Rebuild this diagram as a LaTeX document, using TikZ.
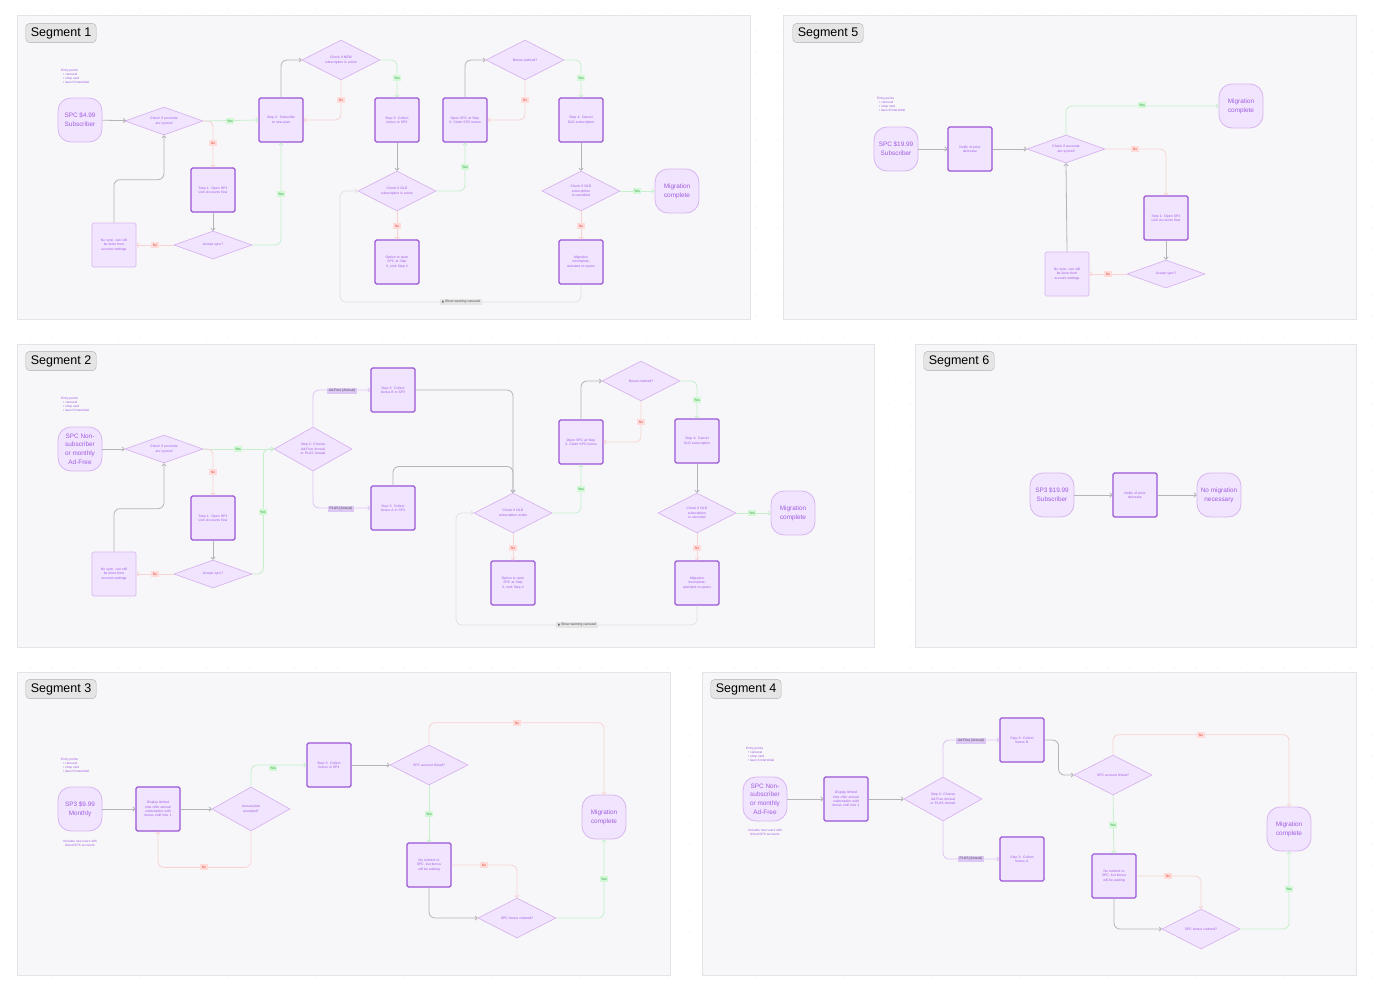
\documentclass[tikz,border=0pt]{standalone}
\usepackage{fontspec}
\setmainfont{Liberation Sans}
\newfontfamily\symfont{DejaVu Sans}
\usetikzlibrary{arrows.meta,shapes.geometric,calc}
\definecolor{panelfill}{HTML}{F7F7F9}
\definecolor{paneldraw}{HTML}{E4E4E8}
\definecolor{boxfill}{HTML}{F1E4FF}
\definecolor{boxdraw}{HTML}{9A55D6}
\definecolor{softdraw}{HTML}{D8B4F0}
\definecolor{violettext}{HTML}{A05CE0}
\definecolor{greyline}{HTML}{B4B4B8}
\definecolor{greenline}{HTML}{C6EFCB}
\definecolor{redline}{HTML}{F8D3D3}
\definecolor{linkline}{HTML}{DCC4F4}
\definecolor{yesfill}{HTML}{D2F8D6}
\definecolor{yestext}{HTML}{2E9A45}
\definecolor{nofill}{HTML}{FFDCD9}
\definecolor{notext}{HTML}{E0483D}
\definecolor{tagfill}{HTML}{DCC7F5}
\newcommand{\tinyfont}{\fontsize{3.4}{4.3}\selectfont\hyphenpenalty=10000\exhyphenpenalty=10000}
\newcommand{\termfont}{\fontsize{6.4}{8.8}\selectfont}
\tikzset{
  panel/.style={fill=panelfill, draw=paneldraw, line width=0.6pt},
  seglabel/.style={fill=black!10, draw=black!30, rounded corners=4pt, font=\fontsize{12.5}{14}\selectfont, inner xsep=5pt, inner ysep=4pt},
  term/.style={rectangle, rounded corners=13pt, fill=boxfill, draw=softdraw, line width=0.8pt, minimum width=44pt, minimum height=44pt, text=violettext, font=\termfont, align=center, inner sep=1pt},
  box/.style={rectangle, rounded corners=1.5pt, fill=boxfill, draw=boxdraw, line width=1.1pt, minimum width=44pt, minimum height=44pt, text width=32pt, text=violettext, font=\tinyfont, align=center, inner sep=1pt},
  softbox/.style={box, draw=softdraw, line width=0.7pt},
  dec/.style={diamond, aspect=2, fill=boxfill, draw=softdraw, line width=0.7pt, minimum width=78pt, minimum height=40pt, text width=33pt, text=violettext, font=\tinyfont, align=center, inner sep=0pt},
  flat/.style={dec, aspect=2.8, minimum height=28pt},
  entry/.style={text=violettext, font=\fontsize{3.2}{4.4}\selectfont, align=left, anchor=north west, inner sep=0pt},
  yes/.style={fill=yesfill, text=yestext, font=\tinyfont, inner sep=1.5pt},
  no/.style={fill=nofill, text=notext, font=\tinyfont, inner sep=1.5pt},
  tag/.style={fill=tagfill, text=black!70, font=\tinyfont, inner sep=1.5pt},
  warn/.style={fill=black!10, text=black!70, font=\tinyfont, inner sep=1.5pt},
  flow/.style={draw=greyline, line width=0.8pt, rounded corners=6pt, -{To[length=3pt,width=5pt]}},
  okflow/.style={flow, draw=greenline},
  noflow/.style={flow, draw=redline},
  linkflow/.style={flow, draw=linkline},
  backflow/.style={draw=black!12, line width=0.7pt, rounded corners=6pt, -{To[length=3pt,width=5pt]}}
}
\newcommand{\entrytext}{Entry points\\[-0.3pt]\hspace{2pt}\textbullet\ carousel\\[-0.3pt]\hspace{2pt}\textbullet\ shop card\\[-0.3pt]\hspace{2pt}\textbullet\ launch interstitial}
\begin{document}
\begin{tikzpicture}[x=1pt,y=-1pt]
	\useasboundingbox[fill=white] (0,0) rectangle (1376,997);
	\foreach \gx in {8,30,...,1376} {
		\foreach \gy in {8,30,...,997} {
			\fill[black!15] (\gx,\gy) circle (0.5pt);
		}
	}
	
	% panels
	\draw[panel] (17,15) rectangle (750,319);
	\draw[panel] (783,15) rectangle (1356,319);
	\draw[panel] (17,344) rectangle (874,647);
	\draw[panel] (915,344) rectangle (1356,647);
	\draw[panel] (17,672) rectangle (670,975);
	\draw[panel] (702,672) rectangle (1356,975);
	\node[seglabel] (seg1) at (61,33) {Segment 1};
	\node[seglabel] (seg5) at (828,33) {Segment 5};
	\node[seglabel] (seg2) at (61,361) {Segment 2};
	\node[seglabel] (seg6) at (959,361) {Segment 6};
	\node[seglabel] (seg3) at (61,689) {Segment 3};
	\node[seglabel] (seg4) at (746,689) {Segment 4};
	
	% Segment 1
	\node[entry] (s1entry) at (61,69) {\entrytext};
	\node[term] (s1start) at (80,120) {SPC \$4.99\\Subscriber};
	\node[flat] (s1sync) at (164,121) {Check if accounts are synced};
	\node[box] (s1step1) at (213,190) {Step 1: Open SP3 Link Accounts flow};
	\node[flat] (s1accept) at (213,245) {Accept sync?};
	\node[softbox] (s1nosync) at (114,245) {No sync, can still be done from account settings};
	\node[box] (s1step2) at (281,120) {Step 2: Subscribe to new plan};
	\node[dec] (s1new) at (341,60) {Check if NEW subscription is active};
	\node[box] (s1step3) at (397,120) {Step 3: Collect bonus in SP3};
	\node[dec] (s1old) at (397,191) {Check if OLD subscription is active};
	\node[box] (s1option) at (397,262) {Option to open SPC at Step 3, omit Step 4};
	\node[box] (s1open) at (465,120) {Open SPC at Step 3: Claim SPC bonus};
	\node[dec] (s1bonus) at (525,60) {Bonus claimed?};
	\node[box] (s1step4) at (581,120) {Step 4: Cancel OLD subscription};
	\node[dec] (s1cancel) at (581,191) {Check if OLD subscription is cancelled};
	\node[term] (s1done) at (677,191) {Migration\\complete};
	\node[box] (s1incomplete) at (581,262) {Migration incomplete, assistant re-opens};
	\coordinate (s1loop) at (340,302);
	
	\draw[flow] (s1start) -- (s1sync);
	\draw[okflow] (s1sync.east) -- (s1step2.west);
	\draw[noflow] (s1sync.east) -| (s1step1.north);
	\draw[flow] (s1step1) -- (s1accept);
	\draw[noflow] (s1accept) -- (s1nosync);
	\draw[flow] (s1nosync.north) -- ++(0,-43) -| (s1sync.south);
	\draw[okflow] (s1accept.east) -| (s1step2.south);
	\draw[flow] (s1step2.north) |- (s1new.west);
	\draw[noflow] (s1new.south) |- (s1step2.east);
	\draw[okflow] (s1new.east) -| (s1step3.north);
	\draw[flow] (s1step3) -- (s1old);
	\draw[okflow] (s1old.east) -| (s1open.south);
	\draw[noflow] (s1old) -- (s1option);
	\draw[flow] (s1open.north) |- (s1bonus.west);
	\draw[noflow] (s1bonus.south) |- (s1open.east);
	\draw[okflow] (s1bonus.east) -| (s1step4.north);
	\draw[flow] (s1step4) -- (s1cancel);
	\draw[okflow] (s1cancel) -- (s1done);
	\draw[noflow] (s1cancel) -- (s1incomplete);
	\draw[backflow] (s1incomplete.south) |- (s1loop) |- (s1old.west);
	\node[yes] (s1y1) at (230,121) {Yes};
	\node[no] (s1n1) at (213,143) {No};
	\node[no] (s1n2) at (155,245) {No};
	\node[yes] (s1y2) at (281,194) {Yes};
	\node[no] (s1n3) at (341,100) {No};
	\node[yes] (s1y3) at (397,78) {Yes};
	\node[yes] (s1y4) at (465,167) {Yes};
	\node[no] (s1n4) at (397,226) {No};
	\node[no] (s1n5) at (525,100) {No};
	\node[yes] (s1y5) at (581,78) {Yes};
	\node[yes] (s1y6) at (637,191) {Yes};
	\node[no] (s1n6) at (581,226) {No};
	\node[warn] (s1warn) at (461,302) {{\symfont\fontsize{3}{4}\selectfont ▲} Show warning carousel};
	
	% Segment 5
	\node[entry] (s5entry) at (877,97) {\entrytext};
	\node[term] (s5start) at (896,149) {SPC \$19.99\\Subscriber};
	\node[box] (s5notify) at (970,149) {Notify of price decrease};
	\node[flat] (s5sync) at (1066,149) {Check if accounts are synced};
	\node[term] (s5done) at (1241,106) {Migration\\complete};
	\node[box] (s5step1) at (1166,218) {Step 1: Open SP3 Link Accounts flow};
	\node[flat] (s5accept) at (1166,274) {Accept sync?};
	\node[softbox] (s5nosync) at (1067,274) {No sync, can still be done from account settings};
	
	\draw[flow] (s5start) -- (s5notify);
	\draw[flow] (s5notify) -- (s5sync);
	\draw[okflow] (s5sync.north) |- (s5done.west);
	\draw[noflow] (s5sync.east) -| (s5step1.north);
	\draw[flow] (s5step1) -- (s5accept);
	\draw[noflow] (s5accept) -- (s5nosync);
	\draw[flow] (s5nosync.north) -- (s5sync.south);
	\node[yes] (s5y1) at (1142,105) {Yes};
	\node[no] (s5n1) at (1135,149) {No};
	\node[no] (s5n2) at (1108,274) {No};
	
	% Segment 2
	\node[entry] (s2entry) at (61,397) {\entrytext};
	\node[term] (s2start) at (80,449) {SPC Non-\\subscriber\\or monthly\\Ad-Free};
	\node[flat] (s2sync) at (164,449) {Check if accounts are synced};
	\node[box] (s2step1) at (213,518) {Step 1: Open SP3 Link Accounts flow};
	\node[flat] (s2accept) at (213,574) {Accept sync?};
	\node[softbox] (s2nosync) at (114,574) {No sync, can still be done from account settings};
	\node[dec, minimum height=44pt] (s2choose) at (313,449) {Step 2: Choose Ad-Free Annual or PLUS Annual};
	\node[box] (s2collectB) at (393,390) {Step 3: Collect bonus B in SP3};
	\node[box] (s2collectA) at (393,508) {Step 3: Collect bonus A in SP3};
	\node[dec] (s2old) at (513,513) {Check if OLD subscription exists};
	\node[box] (s2option) at (513,583) {Option to open SPC at Step 3, omit Step 4};
	\node[box] (s2open) at (581,442) {Open SPC at Step 3: Claim SPC bonus};
	\node[dec] (s2bonus) at (641,381) {Bonus claimed?};
	\node[box] (s2step4) at (697,441) {Step 4: Cancel OLD subscription};
	\node[dec] (s2cancel) at (697,513) {Check if OLD subscription is canceled};
	\node[term] (s2done) at (793,513) {Migration\\complete};
	\node[box] (s2incomplete) at (697,583) {Migration incomplete, assistant re-opens};
	\coordinate (s2loop) at (456,625);
	
	\draw[flow] (s2start) -- (s2sync);
	\draw[okflow] (s2sync) -- (s2choose);
	\draw[noflow] (s2sync.east) -| (s2step1.north);
	\draw[flow] (s2step1) -- (s2accept);
	\draw[noflow] (s2accept) -- (s2nosync);
	\draw[flow] (s2nosync.north) -- ++(0,-43) -| (s2sync.south);
	\draw[okflow] (s2accept.east) -- ++(11,0) |- (s2choose.west);
	\draw[linkflow] (s2choose.north) |- (s2collectB.west);
	\draw[linkflow] (s2choose.south) |- (s2collectA.west);
	\draw[flow] (s2collectB.east) -| (s2old.north);
	\draw[flow] (s2collectA.north) -- ++(0,-19) -| (s2old.north);
	\draw[okflow] (s2old.east) -| (s2open.south);
	\draw[noflow] (s2old) -- (s2option);
	\draw[flow] (s2open.north) |- (s2bonus.west);
	\draw[noflow] (s2bonus.south) |- (s2open.east);
	\draw[okflow] (s2bonus.east) -| (s2step4.north);
	\draw[flow] (s2step4) -- (s2cancel);
	\draw[okflow] (s2cancel) -- (s2done);
	\draw[noflow] (s2cancel) -- (s2incomplete);
	\draw[backflow] (s2incomplete.south) |- (s2loop) |- (s2old.west);
	\node[yes] (s2y1) at (238,449) {Yes};
	\node[no] (s2n1) at (213,472) {No};
	\node[no] (s2n2) at (155,574) {No};
	\node[yes] (s2y2) at (263,512) {Yes};
	\node[tag] (s2adfree) at (342,391) {Ad-Free (Annual)};
	\node[tag] (s2plus) at (341,509) {PLUS (Annual)};
	\node[yes] (s2y3) at (581,489) {Yes};
	\node[no] (s2n3) at (513,548) {No};
	\node[no] (s2n4) at (641,422) {No};
	\node[yes] (s2y4) at (697,400) {Yes};
	\node[yes] (s2y5) at (752,513) {Yes};
	\node[no] (s2n5) at (697,548) {No};
	\node[warn] (s2warn) at (577,625) {{\symfont\fontsize{3}{4}\selectfont ▲} Show warning carousel};
	
	% Segment 6
	\node[term] (s6start) at (1052,495) {SP3 \$19.99\\Subscriber};
	\node[box] (s6notify) at (1135,495) {Notify of price decrease};
	\node[term] (s6done) at (1219,495) {No migration\\necessary};
	\draw[flow] (s6start) -- (s6notify);
	\draw[flow] (s6notify) -- (s6done);
	
	% Segment 3
	\node[entry] (s3entry) at (61,758) {\entrytext};
	\node[term] (s3start) at (80,809) {SP3 \$9.99\\Monthly};
	\node[entry, anchor=north, align=center] (s3note) at (80,840) {Includes new users with\\linked SPC accounts};
	\node[box] (s3display) at (158,809) {Display limited time offer annual subscription with bonus until Nov 1};
	\node[dec, minimum height=44pt] (s3annual) at (251,809) {Annual plan accepted?};
	\node[box] (s3collect) at (329,765) {Step 3: Collect bonus in SP3};
	\node[dec] (s3linked) at (429,765) {SPC account linked?};
	\node[box] (s3redirect) at (429,865) {No redirect to SPC, but bonus will be waiting};
	\node[dec] (s3claimed) at (517,918) {SPC bonus claimed?};
	\node[term] (s3done) at (604,817) {Migration\\complete};
	
	\draw[flow] (s3start) -- (s3display);
	\draw[flow] (s3display) -- (s3annual);
	\draw[okflow] (s3annual.north) |- (s3collect.west);
	\draw[noflow] (s3annual.south) -- ++(0,36) -| (s3display.south);
	\draw[flow] (s3collect) -- (s3linked);
	\draw[noflow] (s3linked.north) -- ++(0,-22) -| (s3done.north);
	\draw[okflow] (s3linked) -- (s3redirect);
	\draw[noflow] (s3redirect.east) -| (s3claimed.north);
	\draw[flow] (s3redirect.south) |- (s3claimed.west);
	\draw[okflow] (s3claimed.east) -| (s3done.south);
	\node[yes] (s3y1) at (273,768) {Yes};
	\node[no] (s3n1) at (204,867) {No};
	\node[no] (s3n2) at (517,723) {No};
	\node[yes] (s3y2) at (429,814) {Yes};
	\node[no] (s3n3) at (484,865) {No};
	\node[yes] (s3y3) at (604,879) {Yes};
	
	% Segment 4
	\node[entry] (s4entry) at (746,747) {\entrytext};
	\node[term] (s4start) at (765,799) {SPC Non-\\subscriber\\or monthly\\Ad-Free};
	\node[entry, anchor=north, align=center] (s4note) at (765,829) {Includes new users with\\linked SPC accounts};
	\node[box] (s4display) at (846,799) {Display limited time offer annual subscription with bonus until Nov 1};
	\node[dec, minimum height=44pt] (s4choose) at (943,799) {Step 2: Choose Ad-Free Annual or PLUS Annual};
	\node[box] (s4collectB) at (1022,740) {Step 3: Collect bonus B};
	\node[box] (s4collectA) at (1022,859) {Step 3: Collect bonus A};
	\node[dec] (s4linked) at (1113,775) {SPC account linked?};
	\node[box] (s4redirect) at (1114,876) {No redirect to SPC, but bonus will be waiting};
	\node[dec] (s4claimed) at (1201,929) {SPC bonus claimed?};
	\node[term] (s4done) at (1289,829) {Migration\\complete};
	
	\draw[flow] (s4start) -- (s4display);
	\draw[flow] (s4display) -- (s4choose);
	\draw[linkflow] (s4choose.north) |- (s4collectB.west);
	\draw[linkflow] (s4choose.south) |- (s4collectA.west);
	\draw[flow] (s4collectB.east) -- ++(14,0) |- (s4linked.west);
	\draw[noflow] (s4linked.north) -- ++(0,-20) -| (s4done.north);
	\draw[okflow] (s4linked) -- (s4redirect);
	\draw[noflow] (s4redirect.east) -| (s4claimed.north);
	\draw[flow] (s4redirect.south) |- (s4claimed.west);
	\draw[okflow] (s4claimed.east) -| (s4done.south);
	\node[tag] (s4adfree) at (971,741) {Ad-Free (Annual)};
	\node[tag] (s4plus) at (971,859) {PLUS (Annual)};
	\node[no] (s4n1) at (1201,735) {No};
	\node[yes] (s4y1) at (1113,825) {Yes};
	\node[no] (s4n2) at (1168,876) {No};
	\node[yes] (s4y2) at (1289,889) {Yes};
\end{tikzpicture}
\end{document}
